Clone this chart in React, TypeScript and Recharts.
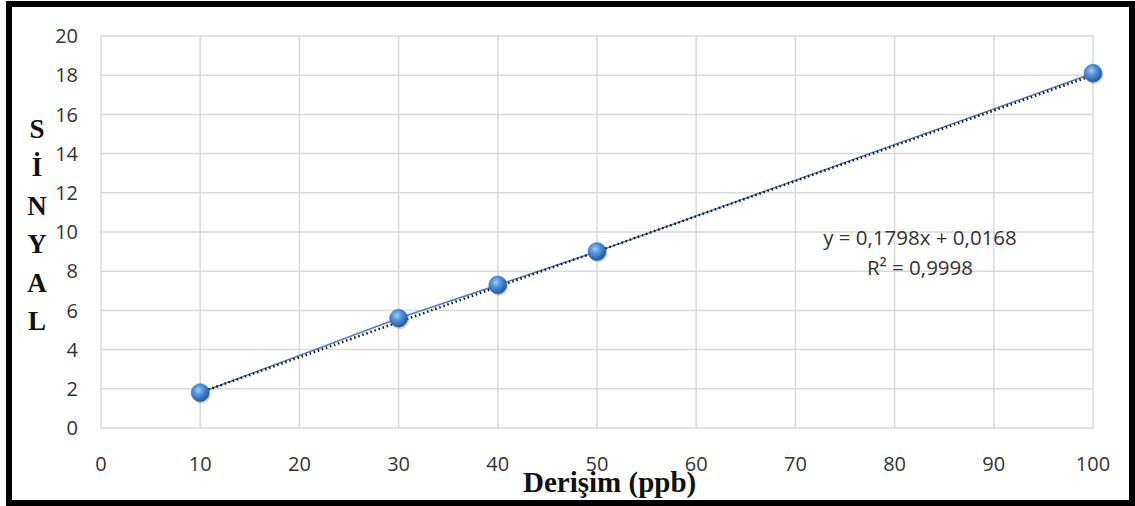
import React from "react";
import { ComposedChart, Line, XAxis, YAxis, CartesianGrid } from "recharts";

const concentrations = [10, 30, 40, 50, 100];
const signals = [1.8, 5.6, 7.3, 9.0, 18.1];
const trendX = [10, 100];
const trendY = [1.81, 18.0];
const xTicks = [0, 10, 20, 30, 40, 50, 60, 70, 80, 90, 100];
const yTicks = [0, 2, 4, 6, 8, 10, 12, 14, 16, 18, 20];
const yLabelLetters = ["S", "İ", "N", "Y", "A", "L"];
const xLabel = "Derişim (ppb)";
const equationLines = ["y = 0,1798x + 0,0168", "R² = 0,9998"];

const seriesData = concentrations.map((x, i) => ({ x, y: signals[i] }));
const trendData = trendX.map((x, i) => ({ x, t: trendY[i] }));

const W = 1135;
const H = 506;
const SANS = "'Open Sans', 'Noto Sans', sans-serif";
const SERIF = "'Liberation Serif', 'DejaVu Serif', serif";

const Sphere = (props: any) => {
  const { cx, cy } = props;
  if (cx == null || cy == null) return null;
  return (
    <g>
      <circle cx={cx + 1.5} cy={cy + 2} r={9} fill="rgba(0,0,0,0.15)" />
      <circle cx={cx} cy={cy} r={9} fill="url(#sphereGrad)" stroke="#3a6fb0" strokeWidth={0.6} />
    </g>
  );
};

export default function App() {
  return (
    <div style={{ position: "absolute", left: 0, top: 0, width: W, height: H, background: "#fff" }}>
      <ComposedChart
        width={W}
        height={H}
        margin={{ top: 36, right: 42, bottom: 48, left: 0 }}
        style={{ position: "absolute", left: 0, top: 0 }}
      >
        <defs>
          <radialGradient id="sphereGrad" cx="40%" cy="35%" r="65%">
            <stop offset="0%" stopColor="#a9cdf3" />
            <stop offset="35%" stopColor="#5b9be0" />
            <stop offset="80%" stopColor="#2f6cb8" />
            <stop offset="100%" stopColor="#24589a" />
          </radialGradient>
        </defs>
        <CartesianGrid stroke="#d9d9d9" strokeWidth={1.5} horizontalValues={yTicks} verticalValues={xTicks} />
        <XAxis
          type="number"
          dataKey="x"
          domain={[0, 100]}
          ticks={xTicks}
          height={30}
          axisLine={false}
          tickLine={false}
          tickSize={0}
          tickMargin={29}
          interval={0}
          tick={{ fontSize: 20, fill: "#333", fontFamily: SANS }}
        />
        <YAxis
          type="number"
          domain={[0, 20]}
          ticks={yTicks}
          width={101}
          axisLine={false}
          tickLine={false}
          tickSize={0}
          tickMargin={23}
          interval={0}
          tick={{ fontSize: 20, fill: "#333", fontFamily: SANS }}
        />
        <Line
          data={seriesData}
          dataKey="y"
          type="linear"
          stroke="#4a7ebb"
          strokeWidth={1.5}
          dot={<Sphere />}
          activeDot={false}
          isAnimationActive={false}
        />
        <Line
          data={trendData}
          dataKey="t"
          type="linear"
          stroke="#111"
          strokeWidth={2.5}
          strokeDasharray="1.5 2.8"
          dot={false}
          activeDot={false}
          isAnimationActive={false}
        />
      </ComposedChart>
      <svg width={W} height={H} style={{ position: "absolute", left: 0, top: 0, pointerEvents: "none" }}>
        {yLabelLetters.map((ch, i) => (
          <text
            key={i}
            x={37}
            y={138 + i * 38.4}
            textAnchor="middle"
            fontFamily={SERIF}
            fontWeight="bold"
            fontSize={27}
            fill="#111"
          >
            {ch}
          </text>
        ))}
        <text x={523} y={492} fontFamily={SERIF} fontWeight="bold" fontSize={29} fill="#111">
          {xLabel}
        </text>
        {equationLines.map((l, i) => (
          <text
            key={i}
            x={920}
            y={245 + i * 30}
            textAnchor="middle"
            fontFamily={SANS}
            fontSize={20.5}
            fill="#333"
          >
            {l}
          </text>
        ))}
      </svg>
      <div
        style={{
          position: "absolute",
          left: 6,
          top: 1,
          width: 1129,
          height: 505,
          border: "6px solid #000",
          boxSizing: "border-box",
          pointerEvents: "none",
        }}
      />
    </div>
  );
}
